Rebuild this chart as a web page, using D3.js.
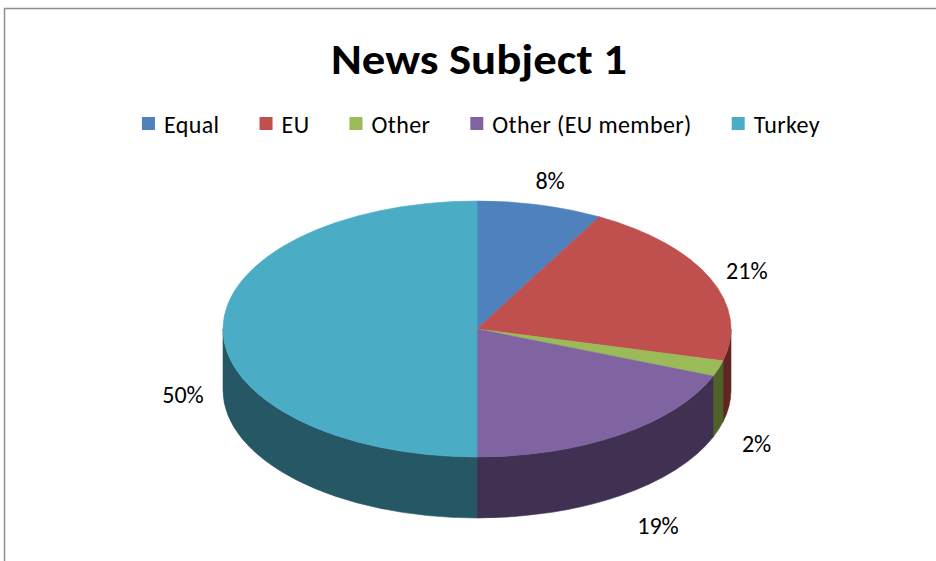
<!DOCTYPE html>
<html>
<head>
<meta charset="utf-8">
<script src="https://cdn.jsdelivr.net/npm/d3@7"></script>
<style>
  html, body { margin: 0; padding: 0; background: #fff; }
  svg { display: block; }
  text { font-family: Carlito, Calibri, Lato, "Open Sans", sans-serif; fill: #000; }
</style>
</head>
<body>
<svg id="chart" width="936" height="561"></svg>
<script>
// Share of news coverage by subject
const categories = ["Equal", "EU", "Other", "Other (EU member)", "Turkey"];
const values = [8, 21, 2, 19, 50];
const topColors = ["#4F81BD", "#C0504D", "#9BBB59", "#8064A2", "#4BACC6"];
const sideColors = ["#2C4D75", "#632523", "#4F6228", "#403152", "#255764"];
const title = "News Subject 1";

const W = 936, H = 561;
const svg = d3.select("#chart");

// chart frame
svg.append("path")
  .attr("d", `M4.5,${H + 2} L4.5,8.5 L${W + 2},8.5`)
  .attr("fill", "none")
  .attr("stroke", "#8e8e8e")
  .attr("stroke-width", 1.5);

// title
svg.append("text")
  .attr("x", 479).attr("y", 74)
  .attr("text-anchor", "middle")
  .attr("font-size", 42)
  .attr("font-weight", "bold")
  .attr("textLength", 296)
  .attr("lengthAdjust", "spacingAndGlyphs")
  .text(title);

// legend, laid out left to right and centred
const legendGap = 40;
const legend = svg.append("g");
const items = legend.selectAll("g").data(categories).join("g");
items.append("rect")
  .attr("width", 13).attr("height", 13)
  .attr("y", 117)
  .attr("fill", (d, i) => topColors[i]);
items.append("text")
  .attr("x", 22).attr("y", 133)
  .attr("font-size", 24)
  .attr("letter-spacing", 0.4)
  .text(d => d);
let xpos = 0;
items.each(function () {
  d3.select(this).attr("transform", `translate(${xpos},0)`);
  xpos += this.getBBox().width + legendGap;
});
const legendW = xpos - legendGap;
legend.attr("transform", `translate(${481 - legendW / 2},0)`);

// 3-D pie geometry
const cx = 477, cy = 329, rx = 254, ry = 128, depth = 61;
const pie = d3.pie().sort(null).value(d => d)(values);
const pt = (a, dy = 0) => [cx + rx * Math.sin(a), cy - ry * Math.cos(a) + dy];

// outer walls: only the front half (angles between pi/2 and 3pi/2) is visible
const walls = svg.append("g");
pie.forEach((s, i) => {
  const a0 = Math.max(s.startAngle, Math.PI / 2);
  const a1 = Math.min(s.endAngle, 3 * Math.PI / 2);
  if (a1 <= a0) return;
  const p0 = pt(a0), p1 = pt(a1), q1 = pt(a1, depth), q0 = pt(a0, depth);
  walls.append("path")
    .attr("d", `M${p0} A${rx},${ry} 0 0 1 ${p1} L${q1} A${rx},${ry} 0 0 0 ${q0} Z`)
    .attr("fill", sideColors[i])
    .attr("stroke", sideColors[i])
    .attr("stroke-width", 0.6);
});

// top faces
const tops = svg.append("g");
pie.forEach((s, i) => {
  const p0 = pt(s.startAngle), p1 = pt(s.endAngle);
  const large = (s.endAngle - s.startAngle) > Math.PI ? 1 : 0;
  tops.append("path")
    .attr("d", `M${cx},${cy} L${p0} A${rx},${ry} 0 ${large} 1 ${p1} Z`)
    .attr("fill", topColors[i])
    .attr("stroke", topColors[i])
    .attr("stroke-width", 0.6);
});

// percentage labels outside each slice
const fmt = d3.format(".0%");
const total = d3.sum(values);
svg.append("g").selectAll("text").data(pie).join("text")
  .attr("text-anchor", "middle")
  .attr("font-size", 24)
  .attr("x", s => {
    const a = (s.startAngle + s.endAngle) / 2;
    const c = Math.cos(a);
    return cx + (rx + (c < -0.5 ? 68 : 40)) * Math.sin(a);
  })
  .attr("y", s => {
    const a = (s.startAngle + s.endAngle) / 2;
    const c = Math.cos(a);
    const shift = c < 0.2 ? depth : 0;
    return cy - (ry + 30) * c + shift + 13;
  })
  .text(s => fmt(s.value / total));
</script>
</body>
</html>
